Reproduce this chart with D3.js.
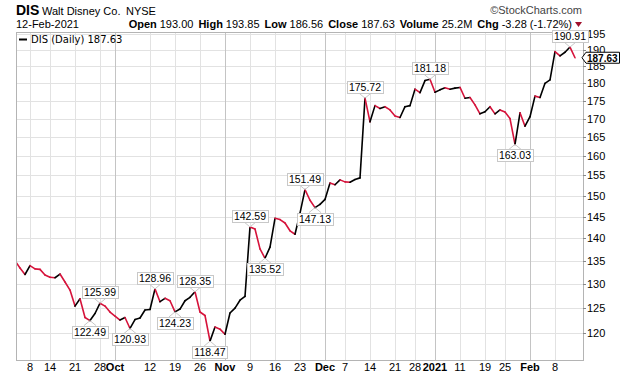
<!DOCTYPE html>
<html lang="en">
<head>
  <meta charset="UTF-8">
  <title>DIS Daily</title>
  <script src="https://d3js.org/d3.v7.min.js"></script>
  <style>
    body { margin: 0; background: #fff; }
    svg { display: block; font-family: 'Liberation Sans', Arial, sans-serif; }
  </style>
</head>
<body>
  <div id="root"></div>
  <script>
    // trading days per month
    const months = ['2020-09', '2020-10', '2020-11', '2020-12', '2021-01', '2021-02']
    const tradingDays = [
      [2, 3, 4, 8, 9, 10, 11, 14, 15, 16, 17, 18, 21, 22, 23, 24, 25, 28, 29, 30],
      [1, 2, 5, 6, 7, 8, 9, 12, 13, 14, 15, 16, 19, 20, 21, 22, 23, 26, 27, 28, 29, 30],
      [2, 3, 4, 5, 6, 9, 10, 11, 12, 13, 16, 17, 18, 19, 20, 23, 24, 25, 27, 30],
      [1, 2, 3, 4, 7, 8, 9, 10, 11, 14, 15, 16, 17, 18, 21, 22, 23, 24, 28, 29, 30, 31],
      [4, 5, 6, 7, 8, 11, 12, 13, 14, 15, 19, 20, 21, 22, 25, 26, 27, 28, 29],
      [1, 2, 3, 4, 5, 8, 9, 10, 11, 12]
    ]

    // daily closes
    const closeSep = [135.0, 133.4, 132.0, 133.9, 133.2, 133.1, 131.9, 131.4, 131.3, 132.1, 130.4, 128.7, 125.4, 126.9, 123.1, 122.49, 123.9, 125.99, 125.4, 124.2]
    const closeOct = [123.4, 122.6, 123.1, 120.93, 122.7, 123.0, 124.6, 124.7, 128.96, 126.3, 127.0, 126.5, 124.23, 124.8, 126.5, 127.2, 128.35, 124.2, 123.5, 118.47, 121.2, 120.8]
    const closeNov = [119.8, 124.0, 125.0, 126.6, 127.4, 142.59, 142.1, 137.6, 135.52, 138.0, 144.6, 144.3, 143.5, 141.7, 140.9, 145.8, 151.49, 148.9, 147.13, 147.9]
    const closeDec = [149.1, 153.1, 152.7, 153.9, 153.4, 153.3, 154.0, 154.4, 175.72, 169.1, 173.6, 172.8, 173.3, 172.4, 170.7, 170.3, 173.3, 173.6, 178.3, 177.3, 180.8, 181.18]
    const closeJan = [177.4, 178.1, 178.7, 178.3, 178.6, 178.8, 175.7, 175.9, 173.8, 171.3, 171.9, 173.3, 171.3, 172.4, 171.8, 170.0, 163.03, 171.6, 167.9]
    const closeFeb = [170.5, 176.3, 175.9, 180.0, 181.0, 189.5, 188.2, 189.3, 190.91, 187.63]

    const tickDates = ['2020-09-08', '2020-09-14', '2020-09-21', '2020-09-28', '2020-10-01', '2020-10-12', '2020-10-19', '2020-10-26',
      '2020-11-02', '2020-11-09', '2020-11-16', '2020-11-23', '2020-12-01', '2020-12-07', '2020-12-14', '2020-12-21', '2020-12-28',
      '2021-01-04', '2021-01-11', '2021-01-19', '2021-01-25', '2021-02-01', '2021-02-08']
    const tickLabels = ['8', '14', '21', '28', 'Oct', '12', '19', '26', 'Nov', '9', '16', '23', 'Dec', '7', '14', '21', '28', '2021', '11', '19', '25', 'Feb', '8']
    const monthLabels = ['Oct', 'Nov', 'Dec', '2021', 'Feb']
    const yTicks = [120, 125, 130, 135, 140, 145, 150, 155, 160, 165, 170, 175, 180, 185, 190, 195]

    const peakDates = ['2020-09-28', '2020-10-13', '2020-10-23', '2020-11-09', '2020-11-24', '2020-12-11', '2020-12-31', '2021-02-11']
    const troughDates = ['2020-09-24', '2020-10-06', '2020-10-19', '2020-10-28', '2020-11-12', '2020-11-27', '2021-01-27']

    const dates = months.flatMap((m, i) => tradingDays[i].map(d => `${m}-${String(d).padStart(2, '0')}`))
    const closes = [].concat(closeSep, closeOct, closeNov, closeDec, closeJan, closeFeb)
    const data = dates.map((d, i) => ({ date: d, value: closes[i] }))

    const dimensions = {
      width: 620,
      height: 376,
      plot: { left: 16, right: 583, top: 32, bottom: 360 }
    }
    const p = dimensions.plot

    const svg = d3.select('#root')
      .append('svg')
        .attr('width', dimensions.width)
        .attr('height', dimensions.height)

    const xScale = d3.scalePoint()
      .domain(dates)
      .range([15, 575])

    const yScale = d3.scaleLog()
      .domain([114.9, 195.63])
      .range([p.bottom, p.top])

    // header
    const head = svg.append('g').attr('fill', '#000')
    head.append('text').attr('x', 16).attr('y', 15)
      .attr('font-size', 14).attr('font-weight', 'bold').text('DIS')
    head.append('text').attr('x', 42).attr('y', 15)
      .attr('font-size', 11).text('Walt Disney Co.')
    head.append('text').attr('x', 126).attr('y', 15)
      .attr('font-size', 11).text('NYSE')
    head.append('text').attr('x', 582).attr('y', 14)
      .attr('text-anchor', 'end').attr('font-size', 11).attr('fill', '#444').text('©StockCharts.com')
    head.append('text').attr('x', 16).attr('y', 28)
      .attr('font-size', 11).text('12-Feb-2021')

    const stats = [['Open', '193.00'], ['High', '193.85'], ['Low', '186.56'], ['Close', '187.63'], ['Volume', '25.2M'], ['Chg', '-3.28 (-1.72%)']]
    const statText = head.append('text').attr('x', 572).attr('y', 28)
      .attr('text-anchor', 'end').attr('font-size', 11)
    stats.forEach(([k, v], i) => {
      statText.append('tspan').attr('font-weight', 'bold').attr('dx', i ? 5 : 0).text(k)
      statText.append('tspan').attr('dx', 3).text(v)
    })
    head.append('path').attr('d', 'M575 22 L582 22 L578.5 27 Z').attr('fill', '#a0102c')

    // grid
    const grid = svg.append('g')
    grid.selectAll('.hgrid')
      .data(yTicks)
      .join('line')
        .attr('x1', p.left).attr('x2', p.right)
        .attr('y1', d => Math.round(yScale(d)) + 0.5).attr('y2', d => Math.round(yScale(d)) + 0.5)
        .attr('stroke', '#e2e2e2')
    grid.selectAll('.vgrid')
      .data(tickDates)
      .join('line')
        .attr('x1', d => Math.round(xScale(d)) + 0.5).attr('x2', d => Math.round(xScale(d)) + 0.5)
        .attr('y1', p.top).attr('y2', p.bottom)
        .attr('stroke', (d, i) => monthLabels.includes(tickLabels[i]) ? '#c4c4c4' : '#e2e2e2')

    svg.append('rect')
      .attr('x', p.left + 0.5).attr('y', p.top + 0.5)
      .attr('width', p.right - p.left).attr('height', p.bottom - p.top)
      .attr('fill', 'none').attr('stroke', '#b4b4b4')

    // x labels
    svg.append('g')
      .selectAll('text')
      .data(tickDates)
      .join('text')
        .attr('x', d => xScale(d))
        .attr('y', 371)
        .attr('text-anchor', 'middle')
        .attr('font-size', 11)
        .attr('font-weight', (d, i) => monthLabels.includes(tickLabels[i]) ? 'bold' : 'normal')
        .text((d, i) => tickLabels[i])

    // y axis on the right
    const yAxis = svg.append('g')
    yAxis.selectAll('line')
      .data(yTicks)
      .join('line')
        .attr('x1', p.right).attr('x2', p.right + 3)
        .attr('y1', d => Math.round(yScale(d)) + 0.5).attr('y2', d => Math.round(yScale(d)) + 0.5)
        .attr('stroke', '#888')
    yAxis.selectAll('text')
      .data(yTicks)
      .join('text')
        .attr('x', 587)
        .attr('y', d => yScale(d) + 4)
        .attr('font-size', 11)
        .text(d => d)

    // price line, red on down days
    svg.append('clipPath').attr('id', 'clip')
      .append('rect').attr('x', p.left + 1).attr('y', p.top + 1)
      .attr('width', p.right - p.left - 1).attr('height', p.bottom - p.top - 1)

    svg.append('g')
      .attr('clip-path', 'url(#clip)')
      .selectAll('line')
      .data(data.slice(1).map((d, i) => [data[i], d]))
      .join('line')
        .attr('x1', d => xScale(d[0].date)).attr('y1', d => yScale(d[0].value))
        .attr('x2', d => xScale(d[1].date)).attr('y2', d => yScale(d[1].value))
        .attr('stroke', d => d[1].value < d[0].value ? '#d6133b' : '#000')
        .attr('stroke-width', 1.6)
        .attr('stroke-linecap', 'round')

    // legend
    svg.append('line').attr('x1', 19).attr('x2', 27).attr('y1', 39.5).attr('y2', 39.5)
      .attr('stroke', '#000').attr('stroke-width', 2)
    svg.append('text').attr('x', 31).attr('y', 43)
      .attr('font-family', 'DejaVu Sans').attr('font-size', 10).text('DIS (Daily) 187.63')

    // peak / trough labels
    const notes = peakDates.map(d => ({ date: d, up: true }))
      .concat(troughDates.map(d => ({ date: d, up: false })))
    const noteG = svg.append('g')
    notes.forEach(n => {
      const v = closes[dates.indexOf(n.date)]
      const px = xScale(n.date)
      const py = yScale(v)
      const g = noteG.append('g')
      const t = g.append('text')
        .attr('font-size', 10.5)
        .attr('text-anchor', 'middle')
        .text(v.toFixed(2))
      const w = t.node().getComputedTextLength() + 4
      const h = 12
      const by = n.up ? py - 5 - h : py + 5
      const edge = n.up ? by + h : by
      g.insert('path', 'text')
        .attr('d', `M${px - 6},${edge} L${px},${py} L${px + 6},${edge}`)
        .attr('fill', 'none').attr('stroke', '#c8c8c8')
      g.insert('rect', 'text')
        .attr('x', Math.round(px - w / 2) + 0.5).attr('y', Math.round(by) + 0.5)
        .attr('width', Math.round(w)).attr('height', h)
        .attr('fill', '#fff').attr('stroke', '#c8c8c8')
      t.attr('x', px).attr('y', Math.round(by) + 10)
    })

    // last price tag
    const last = closes[closes.length - 1]
    const ly = yScale(last)
    svg.append('path')
      .attr('d', `M582,${ly} L586,${ly - 5.5} L619.5,${ly - 5.5} L619.5,${ly + 5.5} L586,${ly + 5.5} Z`)
      .attr('fill', '#fff').attr('stroke', '#000')
    svg.append('text').attr('x', 587).attr('y', ly + 4)
      .attr('font-size', 10).attr('font-weight', 'bold').text(last.toFixed(2))
  </script>
</body>
</html>
